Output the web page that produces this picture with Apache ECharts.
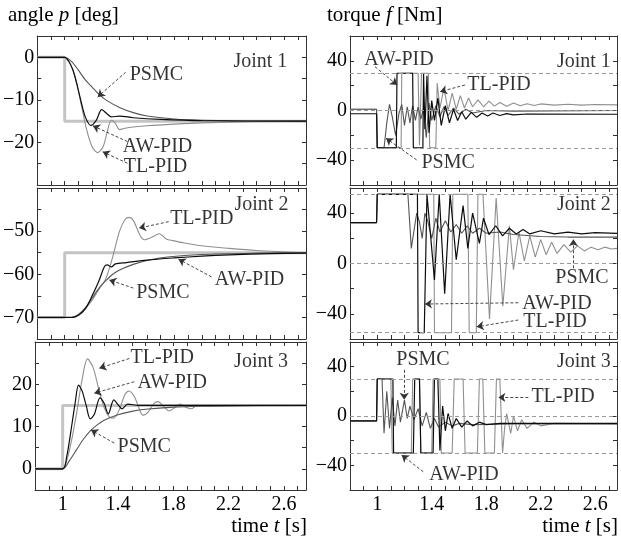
<!DOCTYPE html>
<html>
<head>
<meta charset="UTF-8">
<title>Joint angle and torque responses</title>
<script src="https://cdn.jsdelivr.net/npm/echarts@6/dist/echarts.min.js"></script>
<style>
  html, body { margin: 0; padding: 0; background: #fff; }
  #chart { width: 621px; height: 539px; }
</style>
</head>
<body>
<div id="chart"></div>
<script>
// time axis [s]
const T_MIN = 0.8, T_MAX = 2.76;
const tLabels = [1, 1.4, 1.8, 2.2, 2.6];

// ---- joint angles p [deg] ----
const p1Ref = [[0.8,0],[1,0],[1,-15],[2.76,-15]];
const p1TL = [[0.8,0],[1.0,0],[1.04,-1.5],[1.08,-5],[1.12,-11],[1.16,-17],[1.2,-21],[1.24,-22.4],[1.28,-21],[1.31,-17.5],[1.34,-14.8],[1.37,-15.5],[1.4,-17],[1.45,-16.6],[1.6,-16.1],[1.8,-15.7],[2.0,-15.4],[2.4,-15.1],[2.76,-15]];
const p1AW = [[0.8,0],[1.0,0],[1.03,-1],[1.06,-3],[1.09,-6.5],[1.12,-10.5],[1.15,-14],[1.19,-16],[1.23,-14.8],[1.27,-12.3],[1.31,-13.3],[1.34,-14],[1.4,-13.8],[1.5,-14.2],[1.7,-14.6],[2.0,-14.9],[2.76,-15]];
const p1PS = [[0.8,0],[1.0,0],[1.05,-1],[1.1,-3],[1.15,-5.3],[1.2,-7],[1.25,-8.7],[1.3,-10],[1.4,-11.8],[1.5,-13],[1.6,-13.8],[1.8,-14.5],[2.0,-14.8],[2.4,-15],[2.76,-15]];

const p2Ref = [[0.8,-70],[1,-70],[1,-55],[2.76,-55]];
const p2TL = [[0.8,-70],[1.05,-70],[1.1,-69.5],[1.15,-68],[1.2,-66],[1.25,-63.5],[1.3,-61],[1.35,-56],[1.4,-50],[1.44,-47.3],[1.47,-46.8],[1.5,-47.5],[1.55,-51],[1.58,-52],[1.63,-51.5],[1.69,-50.6],[1.74,-51.8],[1.79,-52.2],[1.85,-52.6],[2.0,-53.4],[2.2,-54],[2.4,-54.5],[2.6,-54.8],[2.76,-55]];
const p2AW = [[0.8,-70],[1.05,-70],[1.1,-69.5],[1.15,-68],[1.2,-65],[1.25,-61.5],[1.29,-58.2],[1.31,-57.8],[1.34,-58.3],[1.37,-57.6],[1.45,-57.3],[1.6,-56.7],[1.8,-56.2],[2.0,-55.8],[2.2,-55.5],[2.5,-55.2],[2.76,-55.1]];
const p2PS = [[0.8,-70],[1.05,-70],[1.1,-69.3],[1.15,-67.8],[1.2,-65.5],[1.25,-63.2],[1.3,-61.5],[1.35,-60],[1.4,-59],[1.5,-57.7],[1.6,-56.8],[1.75,-56],[2.0,-55.4],[2.4,-55.1],[2.76,-55]];

const p3Ref = [[0.8,0],[1,0],[1,15],[2.76,15]];
const p3TL = [[0.8,0],[1.0,0],[1.03,2],[1.06,6],[1.1,13],[1.14,21],[1.18,26],[1.22,24],[1.26,19],[1.3,14.5],[1.34,12.2],[1.37,12],[1.41,14],[1.45,17.5],[1.48,18.4],[1.52,17],[1.55,14.5],[1.58,12.7],[1.62,13.5],[1.66,15.5],[1.69,15.9],[1.73,14.8],[1.77,13.7],[1.81,14.5],[1.85,15.3],[1.89,14.6],[1.93,14.2],[1.97,14.9],[2.05,14.8],[2.2,14.9],[2.76,15]];
const p3AW = [[0.8,0],[1.0,0],[1.03,3],[1.06,9],[1.09,15.5],[1.115,19.8],[1.14,18.5],[1.17,15],[1.2,11.8],[1.23,13],[1.27,16.8],[1.3,15.5],[1.33,13],[1.37,16.3],[1.4,15.2],[1.43,14.2],[1.47,15.3],[1.55,15],[2.76,15]];
const p3PS = [[0.8,0],[1.0,0],[1.05,2],[1.1,4.5],[1.15,7],[1.2,9],[1.25,10.4],[1.3,11.5],[1.4,12.8],[1.5,13.6],[1.6,14.1],[1.8,14.6],[2.0,14.8],[2.4,15],[2.76,15]];

// ---- joint torques f [Nm] ----
const f1Limits = [-30, 0, 30];
const f1TL = [[0.8,1],[0.995,1],[1.0,-30],[1.175,-30],[1.18,30],[1.3,30],[1.31,-28],[1.325,30],[1.375,30],[1.385,-30],[1.43,-30],[1.44,22],[1.46,2],[1.49,18],[1.52,0],[1.55,14],[1.58,1],[1.61,12],[1.64,2],[1.67,10],[1.7,3],[1.74,8.5],[1.78,3],[1.82,7.5],[1.86,3.5],[1.9,6.5],[1.95,3.5],[2.0,6],[2.05,3.8],[2.1,5.5],[2.15,4],[2.2,5.3],[2.3,4.3],[2.4,5],[2.5,4.3],[2.6,4.8],[2.76,4.5]];
const f1AW = [[0.8,-2.6],[0.995,-2.6],[1.0,-30],[1.14,-30],[1.145,30],[1.26,30],[1.265,-30],[1.335,-30],[1.34,30],[1.35,-15],[1.365,28],[1.38,-18],[1.4,8],[1.42,-8],[1.445,10],[1.47,-12],[1.5,4],[1.53,-10],[1.56,1],[1.59,-8],[1.62,-1],[1.65,-7],[1.69,-1.5],[1.73,-5.5],[1.77,-2],[1.81,-4.5],[1.85,-2],[1.9,-4],[1.95,-2.5],[2.0,-3.5],[2.1,-2.8],[2.76,-3]];
const f1PS = [[0.8,1],[0.995,1],[1.0,-30],[1.05,-30],[1.07,-10],[1.09,5],[1.11,-5],[1.135,-20],[1.16,-2],[1.18,5],[1.2,-12],[1.22,3],[1.24,-10],[1.26,4],[1.28,-8],[1.3,3],[1.32,-7],[1.34,2],[1.36,-22],[1.38,6],[1.4,-8],[1.43,4],[1.46,-5],[1.49,3],[1.52,-4],[1.56,2],[1.6,-3],[1.65,1],[1.7,-2],[1.8,0],[2.0,-0.5],[2.76,0]];

const f2Limits = [-55, 0, 55];
const f2TL = [[0.8,32.5],[0.995,32.5],[1.0,55],[1.415,55],[1.42,-55],[1.545,-55],[1.555,55],[1.665,55],[1.675,-55],[1.727,-55],[1.739,55],[1.776,55],[1.824,-44],[1.873,52],[1.922,-34],[1.97,30],[2.0,-5],[2.04,25],[2.08,2],[2.12,22],[2.16,5],[2.2,19],[2.24,7],[2.28,17],[2.32,8],[2.37,15],[2.42,9],[2.47,14],[2.52,10],[2.57,13],[2.62,11],[2.67,13],[2.72,11.5],[2.76,12]];
const f2AW = [[0.8,32.5],[0.995,32.5],[1.0,55],[1.295,55],[1.3,-55],[1.345,-55],[1.365,55],[1.42,-13],[1.455,55],[1.495,-24],[1.535,55],[1.58,3],[1.63,46],[1.665,12],[1.7,40],[1.75,16],[1.78,36],[1.82,23],[1.87,30],[1.92,22],[1.97,28],[2.02,23.5],[2.07,27],[2.12,23.5],[2.2,26],[2.3,23.5],[2.4,25],[2.5,23.5],[2.6,24.5],[2.76,24]];
const f2PS = [[0.8,32.5],[0.995,32.5],[1.0,55],[1.225,55],[1.25,12],[1.275,30],[1.29,40],[1.31,33],[1.33,20],[1.35,40],[1.37,34],[1.4,20],[1.43,36],[1.46,25],[1.5,34],[1.54,25],[1.58,31],[1.62,24],[1.66,30],[1.7,24],[1.75,28],[1.8,24],[1.9,25],[2.0,23],[2.2,21.5],[2.4,21],[2.76,21]];

const f3Limits = [-30, 0, 30];
const f3TL = [[0.8,-4],[0.995,-4],[1.0,30],[1.1,30],[1.11,-30],[1.25,-30],[1.26,30],[1.31,30],[1.32,-30],[1.4,-30],[1.41,30],[1.46,30],[1.47,-30],[1.55,-30],[1.565,30],[1.63,30],[1.645,-30],[1.735,-30],[1.75,30],[1.775,30],[1.79,-30],[1.86,-30],[1.875,30],[1.9,30],[1.92,-30],[1.935,-10],[1.95,2],[1.98,-14],[2.0,0],[2.03,-12],[2.06,-3],[2.1,-10],[2.15,-5],[2.2,-8],[2.3,-6],[2.76,-6.5]];
const f3AW = [[0.8,-4],[0.995,-4],[1.0,30],[1.115,30],[1.12,-30],[1.265,-30],[1.275,30],[1.31,30],[1.32,-30],[1.41,-30],[1.42,30],[1.445,30],[1.46,-28],[1.48,8],[1.5,-12],[1.52,2],[1.55,-10],[1.58,-2],[1.62,-9],[1.66,-4],[1.7,-8],[1.75,-5],[1.8,-7],[1.9,-6],[2.76,-6]];
const f3PS = [[0.8,-4],[0.995,-4],[1.0,30],[1.035,30],[1.05,-14],[1.07,20],[1.09,-10],[1.11,15],[1.13,-8],[1.15,13],[1.17,-5],[1.2,13],[1.22,-2],[1.24,8],[1.27,-3],[1.3,6],[1.33,-8],[1.36,3],[1.39,-10],[1.42,-2],[1.45,-9],[1.5,-5],[1.55,-8],[1.6,-6],[1.7,-7],[2.0,-6.5],[2.76,-6.5]];

// ---- annotations: [text, t, value] and arrows [t0, v0, t1, v1] ----
const p1Notes = [['PSMC',1.669,-4.2],['AW-PID',1.677,-21.1],['TL-PID',1.662,-25.8],['Joint 1',2.427,-1.1]];
const p1Arrows = [[1.445,-3.5,1.241,-9.3],[1.458,-19.8,1.205,-16.1],[1.458,-24.9,1.277,-22.2]];
const f1Notes = [['AW-PID',1.159,40.7],['TL-PID',1.894,20.5],['PSMC',1.52,-42.3],['Joint 1',2.517,39.1]];
const f1Arrows = [[0.983,35.3,1.147,20.5],[1.644,20.5,1.461,15.2],[1.289,-39.8,1.064,-22.3]];
const p2Notes = [['TL-PID',2.0,-47.2],['Joint 2',2.435,-43.9],['AW-PID',2.348,-61.3],['PSMC',1.716,-64.3]];
const p2Arrows = [[1.758,-47.8,1.542,-49.3],[2.071,-60.6,1.83,-56.5],[1.501,-63.2,1.325,-61.3]];
const f2Notes = [['Joint 2',2.517,46.3],['PSMC',2.503,-11.5],['AW-PID',2.319,-31.7],['TL-PID',2.305,-46.3]];
const f2Arrows = [[2.44,-3.8,2.44,19.2],[2.036,-31.2,1.35,-32.2],[2.036,-44.9,1.73,-50.3]];
const p3Notes = [['TL-PID',1.72,26.2],['AW-PID',1.792,20.3],['PSMC',1.59,5.2],['Joint 3',2.435,25.3]];
const p3Arrows = [[1.482,26.1,1.265,23.8],[1.518,20.6,1.229,17.9],[1.373,6.1,1.205,9.2]];
const f3Notes = [['PSMC',1.336,45.4],['TL-PID',2.364,15.6],['AW-PID',1.636,-47.9],['Joint 3',2.517,43.8]];
const f3Arrows = [[1.198,37.4,1.198,13.1],[2.109,15.1,1.889,15.1],[1.338,-45.2,1.179,-31.6]];

const FONT = 'Liberation Serif';
const INK = '#000';
const boxes = [[35,36,271,149],[350,36,267,149],[35,188,271,151],[350,188,267,151],[35,342,271,148],[350,342,267,148]];

const panels = [
  {min:-30, max:5, step:5, every:10, ref:p1Ref, tl:p1TL, aw:p1AW, ps:p1PS, notes:p1Notes, arrows:p1Arrows},
  {min:-60, max:60, step:20, every:40, tl:f1TL, aw:f1AW, ps:f1PS, limits:f1Limits, notes:f1Notes, arrows:f1Arrows},
  {min:-75, max:-40, step:5, every:10, ref:p2Ref, tl:p2TL, aw:p2AW, ps:p2PS, notes:p2Notes, arrows:p2Arrows},
  {min:-60, max:60, step:20, every:40, tl:f2TL, aw:f2AW, ps:f2PS, limits:f2Limits, notes:f2Notes, arrows:f2Arrows},
  {min:-5, max:30, step:5, every:10, ref:p3Ref, tl:p3TL, aw:p3AW, ps:p3PS, notes:p3Notes, arrows:p3Arrows},
  {min:-60, max:60, step:20, every:40, tl:f3TL, aw:f3AW, ps:f3PS, limits:f3Limits, notes:f3Notes, arrows:f3Arrows}
];

function xFmt(v) {
  const m = tLabels.find(x => Math.abs(x - v) < 1e-6);
  return m === undefined ? '' : String(m);
}
function yFmt(p) {
  return v => {
    if (Math.abs(v % p.every) > 1e-6 || v <= p.min || v >= p.max) return '';
    return v < 0 ? '\u2212' + (-v) : String(v);
  };
}

const frameLine = {show: true, onZero: false, lineStyle: {color: '#333', width: 1}};
const tick = {show: true, inside: true, length: 4, lineStyle: {color: '#333'}};
const labelStyle = {color: INK, fontFamily: FONT, fontSize: 20};

const grid = [], xAxis = [], yAxis = [], series = [];

panels.forEach((p, i) => {
  const b = boxes[i];
  grid.push({left: b[0], top: b[1], width: b[2], height: b[3]});
  const xb = {gridIndex: i, type: 'value', min: T_MIN, max: T_MAX, interval: 0.1,
    splitLine: {show: false}, axisLine: frameLine, axisTick: tick};
  xAxis.push(Object.assign({}, xb, {position: 'bottom',
    axisLabel: Object.assign({show: i >= 4, formatter: xFmt, margin: 5}, labelStyle)}));
  xAxis.push(Object.assign({}, xb, {position: 'top', axisLabel: {show: false}}));
  const yb = {gridIndex: i, type: 'value', min: p.min, max: p.max, interval: p.step,
    splitLine: {show: false}, axisLine: frameLine, axisTick: tick};
  yAxis.push(Object.assign({}, yb, {position: 'left',
    axisLabel: Object.assign({formatter: yFmt(p), margin: 3}, labelStyle)}));
  yAxis.push(Object.assign({}, yb, {position: 'right', axisLabel: {show: false}}));

  const ax = {xAxisIndex: 2 * i, yAxisIndex: 2 * i};
  const line = (data, color, width, smooth, extra) => Object.assign({
    type: 'line', data: data, showSymbol: false, symbol: 'none', smooth: smooth,
    lineStyle: {color: color, width: width}, silent: true
  }, ax, extra || {});

  if (p.ref) series.push(line(p.ref, '#c4c4c4', 3, false));
  const sm = p.ref ? 0.3 : false;
  const tlExtra = p.limits ? {markLine: {
    silent: true, symbol: 'none', label: {show: false},
    lineStyle: {type: [4, 3], color: '#9a9a9a', width: 1},
    data: p.limits.map(v => ({yAxis: v}))
  }} : {};
  series.push(line(p.tl, '#8f8f8f', 1.1, sm, tlExtra));
  series.push(line(p.ps, '#555', 1.1, sm));
  series.push(line(p.aw, '#0d0d0d', 1.2, sm));

  series.push(Object.assign({
    type: 'scatter', symbolSize: 1, silent: true,
    itemStyle: {color: 'rgba(0,0,0,0)'},
    label: Object.assign({show: true, position: 'inside', formatter: '{b}'}, labelStyle),
    data: p.notes.map(n => ({name: n[0], value: [n[1], n[2]]})),
    markLine: {
      silent: true, symbol: ['none', 'arrow'], symbolSize: 7,
      label: {show: false},
      lineStyle: {type: [3, 2], color: '#333', width: 0.9},
      data: p.arrows.map(a => [{coord: [a[0], a[1]]}, {coord: [a[2], a[3]]}])
    }
  }, ax));
});

const rich = {
  a: {fontFamily: FONT, fontSize: 21, fill: INK},
  i: {fontFamily: FONT, fontSize: 21, fontStyle: 'italic', fill: INK}
};
const heading = (text, pos) => Object.assign({type: 'text', style: {text: text, rich: rich}}, pos);

const option = {
  animation: false,
  backgroundColor: '#fff',
  grid: grid,
  xAxis: xAxis,
  yAxis: yAxis,
  series: series,
  graphic: [
    heading('{a|angle }{i|p}{a| [deg]}', {left: 8, top: 5}),
    heading('{a|torque }{i|f}{a| [Nm]}', {left: 327, top: 5}),
    heading('{a|time }{i|t}{a| [s]}', {right: 314, top: 516}),
    heading('{a|time }{i|t}{a| [s]}', {right: 3, top: 516})
  ]
};

const chart = echarts.init(document.getElementById('chart'), null, {renderer: 'canvas'});
chart.setOption(option);
</script>
</body>
</html>
